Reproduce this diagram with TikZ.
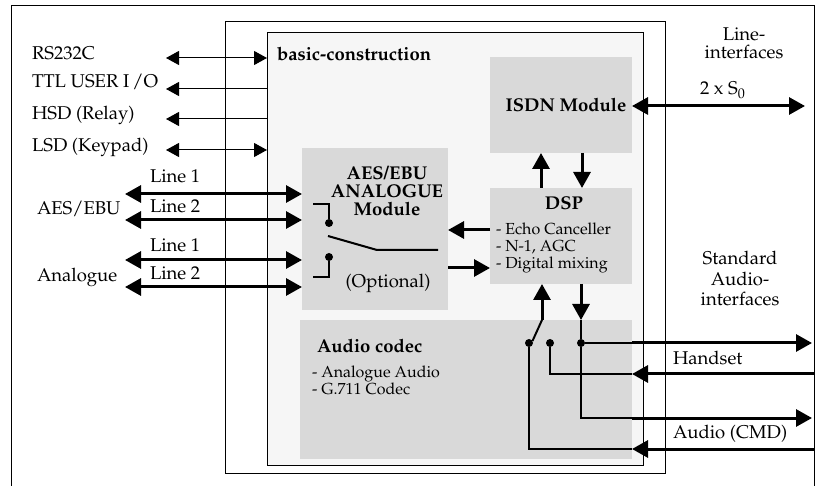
\documentclass[tikz,border=0pt]{standalone}
\usepackage[T1]{fontenc}
\usepackage{mathpazo}
\usetikzlibrary{arrows.meta}
\definecolor{modgray}{HTML}{D9D9D9}
\definecolor{basegray}{HTML}{F6F6F6}

\begin{document}
\begin{tikzpicture}[x=1pt,y=-1pt,line join=miter,
  every node/.style={inner sep=0pt,outer sep=0pt,font=\fontsize{18.5}{18}\selectfont},
  bf/.style={font=\fontsize{18.5}{18}\selectfont\bfseries},
  small/.style={font=\fontsize{16}{17}\selectfont},
  frame/.style={draw,line width=1pt,anchor=north west},
  modbox/.style={fill=modgray,anchor=north west},
  dot/.style={circle,fill,minimum size=8pt},
  wire/.style={line width=2pt},
  thinarr/.style={line width=1pt,-{Triangle[length=13pt,width=14pt]}},
  thinboth/.style={line width=1pt,{Triangle[length=13pt,width=14pt]}-{Triangle[length=13pt,width=14pt]}},
  thickarr/.style={line width=3pt,-{Triangle[length=16pt,width=17pt]}},
  thickboth/.style={line width=3pt,{Triangle[length=16pt,width=17pt]}-{Triangle[length=16pt,width=17pt]}}]
\useasboundingbox (0,0) rectangle (817,486);

% frames
\draw[line width=1pt] (11,486) -- (11,6) -- (814,6) -- (814,486);
\node[frame,fill=white,minimum width=440pt,minimum height=451pt] (housing) at (225,22) {};
\node[frame,fill=basegray,minimum width=376pt,minimum height=432pt] (basic) at (267,33) {};
\node[bf,anchor=base west] (basiclbl) at (277,61) {basic-construction};

% modules
\node[modbox,minimum width=142pt,minimum height=96pt] (isdn) at (490,57) {};
\node[modbox,minimum width=146pt,minimum height=162pt] (aes) at (302,148) {};
\node[modbox,minimum width=142pt,minimum height=96pt] (dsp) at (490,188) {};
\node[modbox,minimum width=332pt,minimum height=139pt] (codec) at (300,320) {};

\node[bf,anchor=base] (isdnlbl) at (566,112) {ISDN Module};
\node[bf,align=center] (aeslbl) at (387,191) {AES/EBU\\ANALOGUE\\Module};
\node[anchor=base] (optlbl) at (388,288) {(Optional)};
\node[bf,anchor=base] (dsplbl) at (564,210) {DSP};
\node[small,align=left,anchor=west] (dsplist) at (496,248) {- Echo Canceller\\- N-1, AGC\\- Digital mixing};
\node[bf,anchor=base west] (codeclbl) at (317,353) {Audio codec};
\node[small,align=left,anchor=west] (codeclist) at (312,380) {- Analogue Audio\\- G.711 Codec};

% left interfaces
\node[anchor=base west] (rs) at (32,60) {RS232C};
\node[anchor=base west] (ttl) at (32,88) {TTL USER I\,/O};
\node[anchor=base west] (hsd) at (32,120) {HSD (Relay)};
\node[anchor=base west] (lsd) at (32,152) {LSD (Keypad)};
\coordinate (rsL) at (166,58);
\coordinate (ttlL) at (166,89);
\coordinate (hsdL) at (166,119);
\coordinate (lsdL) at (166,150);
\draw[thinboth] (rsL) -- (rsL -| basic.west);
\draw[thinarr] (ttlL -| basic.west) -- (ttlL);
\draw[thinarr] (hsdL -| basic.west) -- (hsdL);
\draw[thinboth] (lsdL) -- (lsdL -| basic.west);

\node[anchor=base west] (aesebu) at (37,215) {AES/EBU};
\node[anchor=base west] (analog) at (37,282) {Analogue};
\node[anchor=base west] (aesl1) at (150,183) {Line 1};
\node[anchor=base west] (aesl2) at (150,213) {Line 2};
\node[anchor=base west] (anl1) at (150,252) {Line 1};
\node[anchor=base west] (anl2) at (150,280) {Line 2};
\coordinate (aes1) at (125,194);
\coordinate (aes2) at (125,220);
\coordinate (an1) at (125,260);
\coordinate (an2) at (125,287);
\draw[thickboth] (aes1) -- (aes1 -| aes.west);
\draw[thickboth] (aes2) -- (aes2 -| aes.west);
\draw[thickboth] (an1) -- (an1 -| aes.west);
\draw[thickboth] (an2) -- (an2 -| aes.west);

% switch in AES/EBU module
\node[dot] (sa) at (329,223) {};
\node[dot] (sb) at (329,257) {};
\coordinate (ca) at (313,204);
\coordinate (cb) at (313,277);
\coordinate (pivot) at (328,236);
\coordinate (knee) at (377,250);
\coordinate (armend) at (438,250);
\draw[wire] (ca) -| (sa);
\draw[wire] (cb) -| (sb);
\draw[wire] (pivot) -- (knee) -- (armend);

% line interfaces
\node[align=center] (lineif) at (744,43) {Line-\\interfaces};
\node[anchor=base west] (s0lbl) at (700,95) {2 x S$_0$};
\coordinate (s0) at (805,106);
\draw[thickboth] (isdn.east |- s0) -- (s0);

% ISDN <-> DSP <-> AES
\draw[thickarr] ([xshift=-20pt]dsp.north) -- ([xshift=-20pt]isdn.south);
\draw[thickarr] ([xshift=21pt]isdn.south) -- ([xshift=21pt]dsp.north);
\coordinate (fb) at (0,230);
\coordinate (fw) at (0,268);
\draw[thickarr] (fb -| dsp.west) -- (fb -| aes.east);
\draw[thickarr] (fw -| aes.east) -- (fw -| dsp.west);

% audio codec switch and taps
\node[dot] (dL) at (529,343) {};
\node[dot] (dM) at (550,343) {};
\node[dot] (dR) at (581,343) {};
\coordinate (sw) at (542,320);
\coordinate (tap) at (581,320);
\draw[thickarr] (sw) -- (sw |- dsp.south);
\draw[wire] (sw) -- (dL.30);
\draw[thickarr] (tap |- dsp.south) -- (tap);
\draw[wire] (tap) -- (dR);

% standard audio interfaces
\node[align=center,font=\fontsize{18.5}{20.5}\selectfont] (stdif) at (740,279) {Standard\\Audio-\\interfaces};
\node[anchor=base west] (hslbl) at (673,365) {Handset};
\node[anchor=base west] (cmdlbl) at (673,438) {Audio (CMD)};
\coordinate (hsout) at (812,343);
\coordinate (hsin) at (814,374);
\coordinate (cmdout) at (812,418);
\coordinate (cmdin) at (814,449);
\draw[wire] (dR) -- (hsout -| codec.east);
\draw[thickarr] (hsout -| codec.east) -- (hsout);
\draw[wire] (dM) |- (hsin -| codec.east);
\draw[thickarr] (hsin) -- (hsin -| codec.east);
\draw[wire] (dR) |- (cmdout -| codec.east);
\draw[thickarr] (cmdout -| codec.east) -- (cmdout);
\draw[wire] (dL) |- (cmdin -| codec.east);
\draw[thickarr] (cmdin) -- (cmdin -| codec.east);

\end{tikzpicture}
\end{document}
